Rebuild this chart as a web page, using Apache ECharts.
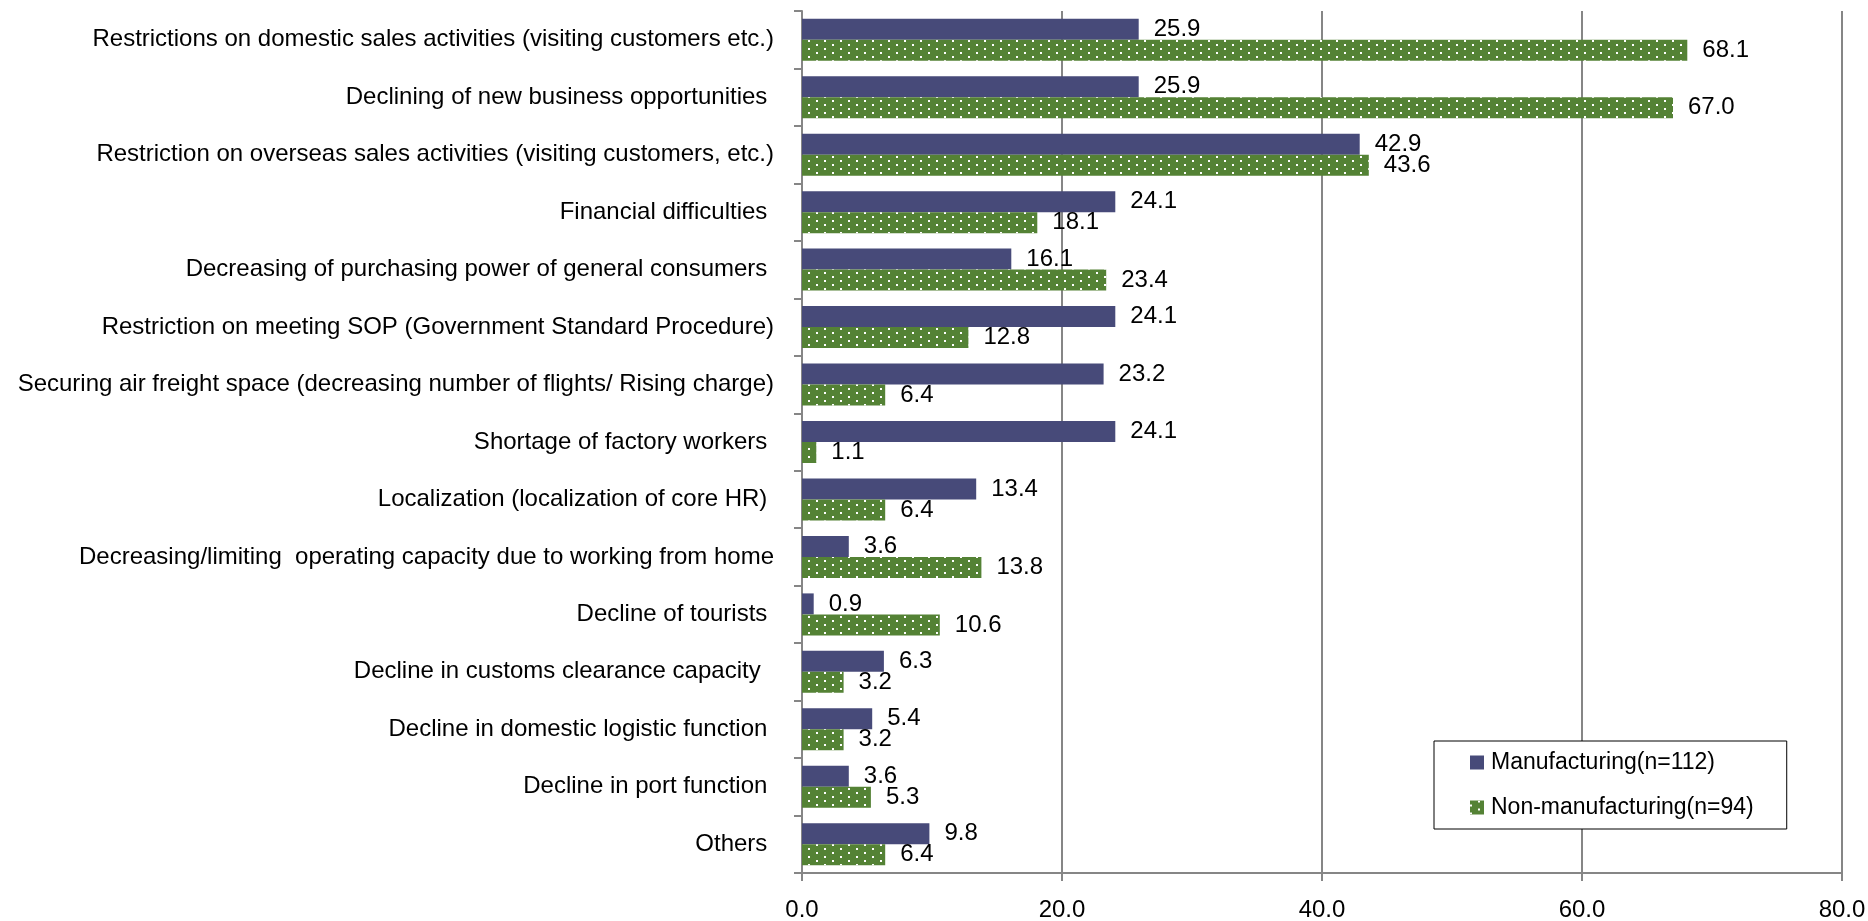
<!DOCTYPE html>
<html>
<head>
<meta charset="utf-8">
<title>Problems faced</title>
<script src="https://cdn.jsdelivr.net/npm/echarts@6/dist/echarts.min.js"></script>
<style>
  html, body { margin: 0; padding: 0; background: #fff; }
  #chart { width: 1868px; height: 921px; }
</style>
</head>
<body>
<div id="chart"></div>
<script>
const categories = [
  'Restrictions on domestic sales activities (visiting customers etc.)',
  'Declining of new business opportunities ',
  'Restriction on overseas sales activities (visiting customers, etc.)',
  'Financial difficulties ',
  'Decreasing of purchasing power of general consumers ',
  'Restriction on meeting SOP (Government Standard Procedure)',
  'Securing air freight space (decreasing number of flights/ Rising charge)',
  'Shortage of factory workers ',
  'Localization (localization of core HR) ',
  'Decreasing/limiting  operating capacity due to working from home',
  'Decline of tourists ',
  'Decline in customs clearance capacity  ',
  'Decline in domestic logistic function ',
  'Decline in port function ',
  'Others '
];
const manufacturing = [25.9, 25.9, 42.9, 24.1, 16.1, 24.1, 23.2, 24.1, 13.4, 3.6, 0.9, 6.3, 5.4, 3.6, 9.8];
const nonManufacturing = [68.1, 67.0, 43.6, 18.1, 23.4, 12.8, 6.4, 1.1, 6.4, 13.8, 10.6, 3.2, 3.2, 5.3, 6.4];
const seriesNames = ['Manufacturing(n=112)', 'Non-manufacturing(n=94)'];

// no narrow font available, so regular Arial-metric font sized to match widths
const font = "'Liberation Sans', Arial, sans-serif";
const gridColor = '#868686';

const chart = echarts.init(document.getElementById('chart'));

const valueLabel = {
  show: true,
  position: 'right',
  distance: 15,
  color: '#000',
  fontFamily: font,
  fontSize: 24,
  formatter: (p) => p.value.toFixed(1)
};

chart.setOption({
  animation: false,
  backgroundColor: '#fff',
  grid: { left: 802, right: 26, top: 11, bottom: 48, containLabel: false, outerBoundsMode: 'none' },
  legend: {
    orient: 'vertical',
    left: 1434,
    top: 741,
    padding: [10, 33, 10, 36],
    itemGap: 22,
    itemWidth: 14,
    itemHeight: 14,
    borderColor: '#000',
    borderWidth: 1,
    backgroundColor: '#fff',
    textStyle: { fontFamily: font, fontSize: 23, color: '#000', padding: [0, 0, 0, 2] },
    data: [
      { name: seriesNames[0], icon: 'rect' },
      { name: seriesNames[1], icon: 'rect' }
    ]
  },
  xAxis: {
    type: 'value',
    min: 0,
    max: 80,
    interval: 20,
    axisLine: { show: true, lineStyle: { color: gridColor, width: 2 } },
    axisTick: { show: true, length: 8, lineStyle: { color: gridColor, width: 2 } },
    splitLine: { show: true, lineStyle: { color: gridColor, width: 2 } },
    axisLabel: {
      color: '#000',
      fontFamily: font,
      fontSize: 24,
      margin: 25,
      formatter: (v) => v.toFixed(1)
    }
  },
  yAxis: {
    type: 'category',
    inverse: true,
    data: categories,
    axisLine: { show: true, lineStyle: { color: gridColor, width: 2 } },
    axisTick: { show: true, length: 8, lineStyle: { color: gridColor, width: 2 } },
    axisLabel: {
      color: '#000',
      fontFamily: font,
      fontSize: 24,
      margin: 28,
      interval: 0
    }
  },
  series: [
    {
      name: seriesNames[0],
      type: 'bar',
      barWidth: 21,
      barGap: '0%',
      data: manufacturing,
      itemStyle: { color: '#474A79' },
      label: valueLabel
    },
    {
      name: seriesNames[1],
      type: 'bar',
      barWidth: 21,
      barGap: '0%',
      data: nonManufacturing,
      itemStyle: {
        color: '#548235',
        decal: {
          symbol: 'rect',
          symbolSize: 1,
          color: '#ffffff',
          dashArrayX: [[2, 14], [0, 8, 2, 6]],
          dashArrayY: [2, 2],
          rotation: 0
        }
      },
      label: valueLabel
    }
  ]
});
</script>
</body>
</html>
